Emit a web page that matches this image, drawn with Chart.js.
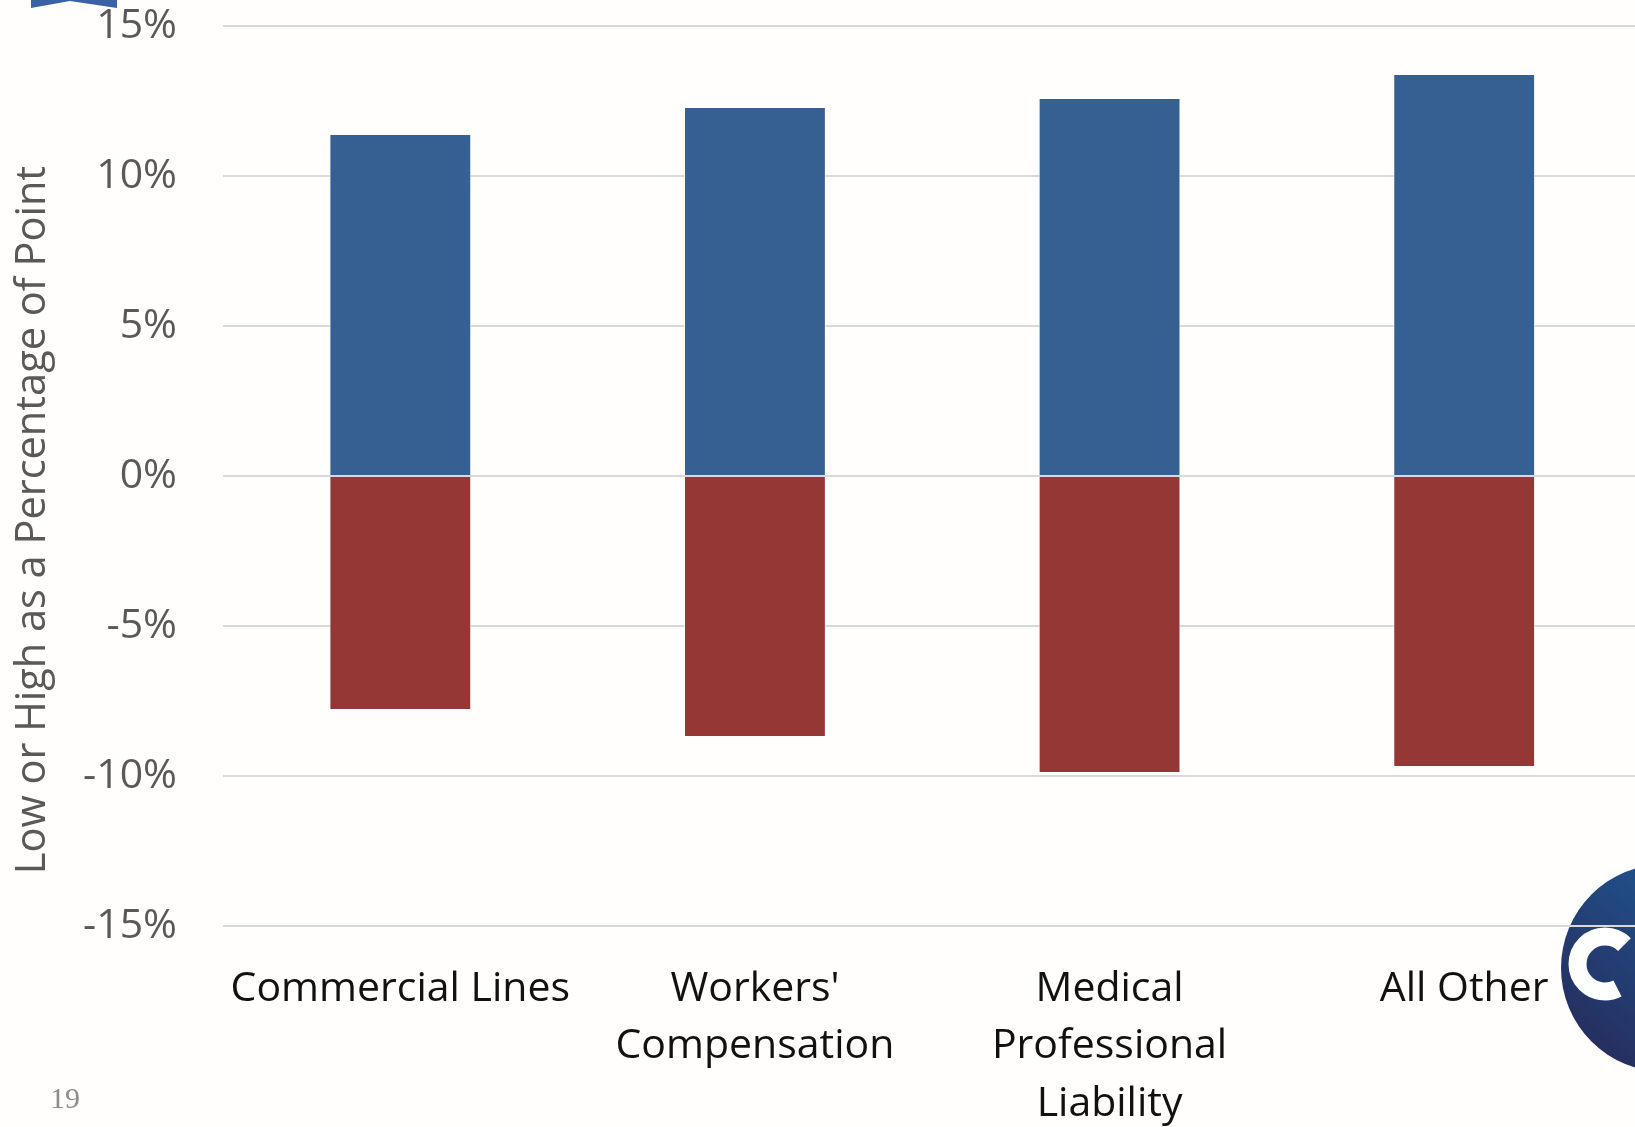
<!DOCTYPE html>
<html>
<head>
<meta charset="utf-8">
<title>Low or High as a Percentage of Point</title>
<script src="https://cdn.jsdelivr.net/npm/chart.js@4"></script>
<style>
  html, body { margin: 0; padding: 0; background: #fffefd; overflow: hidden; }
  #wrap { width: 1660px; height: 1127px; }
</style>
</head>
<body>
<div id="wrap"><canvas id="rangeChart" width="1660" height="1127"></canvas></div>
<script>
// Lines of business and their low / high range around the point estimate (%)
const categories = [['Commercial Lines'], ["Workers'", 'Compensation'], ['Medical', 'Professional', 'Liability'], ['All Other']];
const lowValues = [-7.8, -8.7, -9.9, -9.7];
const highValues = [11.4, 12.3, 12.6, 13.4];
const yTicks = [-15, -10, -5, 0, 5, 10, 15];

const blue = '#376092';
const red = '#953735';

// logo bits + page number + rotated axis title
const decorations = {
    id: 'decorations',
    beforeDraw(chart) {
        const ctx = chart.ctx;
        ctx.save();
        // ribbon at the top left
        ctx.fillStyle = '#3a62a4';
        ctx.beginPath();
        ctx.moveTo(31, 0);
        ctx.lineTo(31, 8);
        ctx.lineTo(70, 1);
        ctx.lineTo(117, 8);
        ctx.lineTo(117, 0);
        ctx.closePath();
        ctx.fill();

        // round logo at the bottom right
        const g = ctx.createLinearGradient(1740, 880, 1590, 1060);
        g.addColorStop(0, '#1f5a97');
        g.addColorStop(1, '#262c5c');
        ctx.fillStyle = g;
        ctx.beginPath();
        ctx.arc(1665, 968, 104, 0, Math.PI * 2);
        ctx.fill();
        ctx.strokeStyle = '#ffffff';
        ctx.lineWidth = 18;
        ctx.beginPath();
        ctx.arc(1605, 964, 27.5, -0.25 * Math.PI, 0.35 * Math.PI, true);
        ctx.stroke();
        ctx.restore();
    },
    afterDraw(chart) {
        const ctx = chart.ctx;
        ctx.save();
        ctx.fillStyle = '#595959';
        ctx.font = '41.5px "Open Sans"';
        ctx.textAlign = 'center';
        ctx.textBaseline = 'middle';
        ctx.translate(33, 520);
        ctx.rotate(-Math.PI / 2);
        ctx.fillText('Low or High as a Percentage of Point', 0, 0);
        ctx.restore();

        ctx.save();
        ctx.fillStyle = '#8c8c8c';
        ctx.font = '30px "Liberation Serif"';
        ctx.textAlign = 'left';
        ctx.textBaseline = 'alphabetic';
        ctx.fillText('19', 50, 1108);
        ctx.restore();
    }
};

new Chart(document.getElementById('rangeChart'), {
    type: 'bar',
    data: {
        labels: categories,
        datasets: [
            { label: 'Low', data: lowValues, backgroundColor: red, borderColor: 'rgba(255,255,255,0.7)', borderWidth: 1 },
            { label: 'High', data: highValues, backgroundColor: blue, borderColor: 'rgba(255,255,255,0.7)', borderWidth: 1 }
        ]
    },
    options: {
        responsive: false,
        animation: false,
        devicePixelRatio: 1,
        layout: { padding: { top: 26, right: 18.5, bottom: 0, left: 0 } },
        datasets: { bar: { categoryPercentage: 1, barPercentage: 0.4 } },
        plugins: { legend: { display: false }, tooltip: { enabled: false } },
        scales: {
            x: {
                stacked: true,
                grid: { display: false, drawTicks: false },
                border: { display: false },
                ticks: {
                    color: '#111111',
                    font: { family: 'Open Sans', size: 41, lineHeight: 1.41 },
                    padding: 34,
                    autoSkip: false,
                    maxRotation: 0,
                    minRotation: 0
                },
                afterFit: s => { s.height = 201; s.paddingLeft = 0; s.paddingRight = 0; }
            },
            y: {
                stacked: true,
                min: -15,
                max: 15,
                afterBuildTicks: s => { s.ticks = yTicks.map(v => ({ value: v })); },
                grid: { color: '#d9d9d9', lineWidth: 2, drawTicks: false },
                border: { display: false },
                ticks: {
                    color: '#595959',
                    font: { family: 'Open Sans', size: 41 },
                    padding: 46,
                    callback: v => v + '%'
                },
                afterFit: s => { s.width = 223; s.paddingTop = 0; s.paddingBottom = 0; }
            }
        }
    },
    plugins: [decorations]
});
</script>
</body>
</html>
